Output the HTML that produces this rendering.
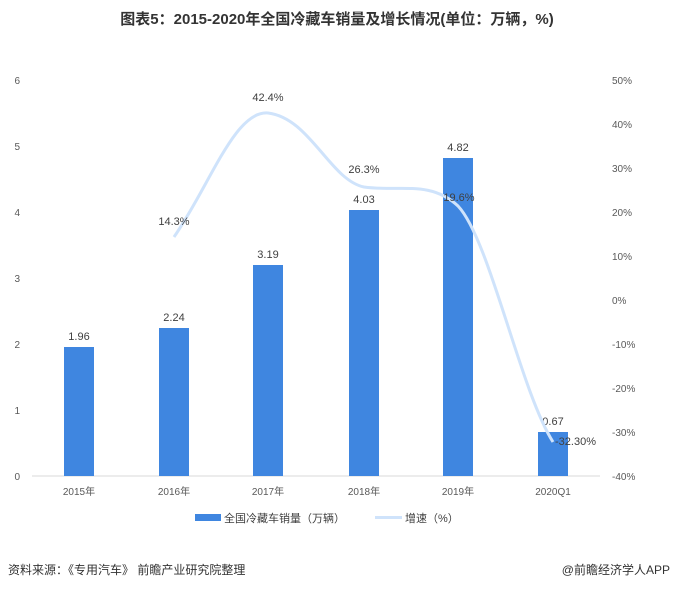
<!DOCTYPE html>
<html><head><meta charset="utf-8"><style>
body{margin:0;background:#fff;width:674px;height:591px;overflow:hidden;font-family:"Liberation Sans","Noto Sans CJK SC",sans-serif;}
</style></head><body>
<svg width="674" height="591" xmlns="http://www.w3.org/2000/svg" font-family="Liberation Sans, Noto Sans CJK SC, sans-serif">
<text x="337" y="24" text-anchor="middle" font-size="15" font-weight="bold" fill="#333">图表5：2015-2020年全国冷藏车销量及增长情况(单位：万辆，%)</text>
<line x1="32" y1="476" x2="600" y2="476" stroke="#d9d9d9"/>
<g font-size="10" fill="#595959" text-anchor="end">
<text x="20" y="480">0</text><text x="20" y="414">1</text><text x="20" y="348">2</text><text x="20" y="282">3</text><text x="20" y="216">4</text><text x="20" y="150">5</text><text x="20" y="84">6</text>
</g>
<g font-size="10" fill="#595959" text-anchor="start">
<text x="612" y="84">50%</text><text x="612" y="128">40%</text><text x="612" y="172">30%</text><text x="612" y="216">20%</text><text x="612" y="260">10%</text><text x="612" y="304">0%</text><text x="612" y="348">-10%</text><text x="612" y="392">-20%</text><text x="612" y="436">-30%</text><text x="612" y="480">-40%</text>
</g>
<g fill="#3f86e0">
<rect x="64" y="347" width="30" height="129"/>
<rect x="159" y="328" width="30" height="148"/>
<rect x="253" y="265" width="30" height="211"/>
<rect x="349" y="210" width="30" height="266"/>
<rect x="443" y="158" width="30" height="318"/>
<rect x="538" y="432" width="30" height="44"/>
</g>
<g font-size="11" fill="#404040" text-anchor="middle">
<text x="79" y="340">1.96</text><text x="174" y="321">2.24</text><text x="268" y="258">3.19</text><text x="364" y="203">4.03</text><text x="458" y="151">4.82</text><text x="553" y="425">0.67</text>
</g>
<g font-size="10" fill="#595959" text-anchor="middle">
<text x="79" y="495">2015年</text><text x="174" y="495">2016年</text><text x="268" y="495">2017年</text><text x="364" y="495">2018年</text><text x="458" y="495">2019年</text><text x="553" y="495">2020Q1</text>
</g>
<path d="M174,237 C210,185 235,110 268,113 C310,118 330,180 364,187 C400,192 430,180 458,206 C490,240 520,390 553,442" fill="none" stroke="#cfe3fb" stroke-width="3"/>
<g font-size="11" fill="#404040" text-anchor="middle">
<text x="174" y="225">14.3%</text><text x="268" y="101">42.4%</text><text x="364" y="173">26.3%</text><text x="459" y="201">19.6%</text>
</g>
<text x="555" y="445" font-size="11" fill="#404040">-32.30%</text>
<rect x="195" y="514" width="26" height="7" fill="#3f86e0"/>
<text x="224" y="522" font-size="11" fill="#404040">全国冷藏车销量（万辆）</text>
<rect x="375" y="516" width="27" height="3" fill="#cfe3fb"/>
<text x="405" y="522" font-size="11" fill="#404040">增速（%）</text>
<text x="8" y="574" font-size="12" fill="#333">资料来源：《专用汽车》  前瞻产业研究院整理</text>
<text x="670" y="574" font-size="12" fill="#333" text-anchor="end">@前瞻经济学人APP</text>
</svg>
</body></html>
